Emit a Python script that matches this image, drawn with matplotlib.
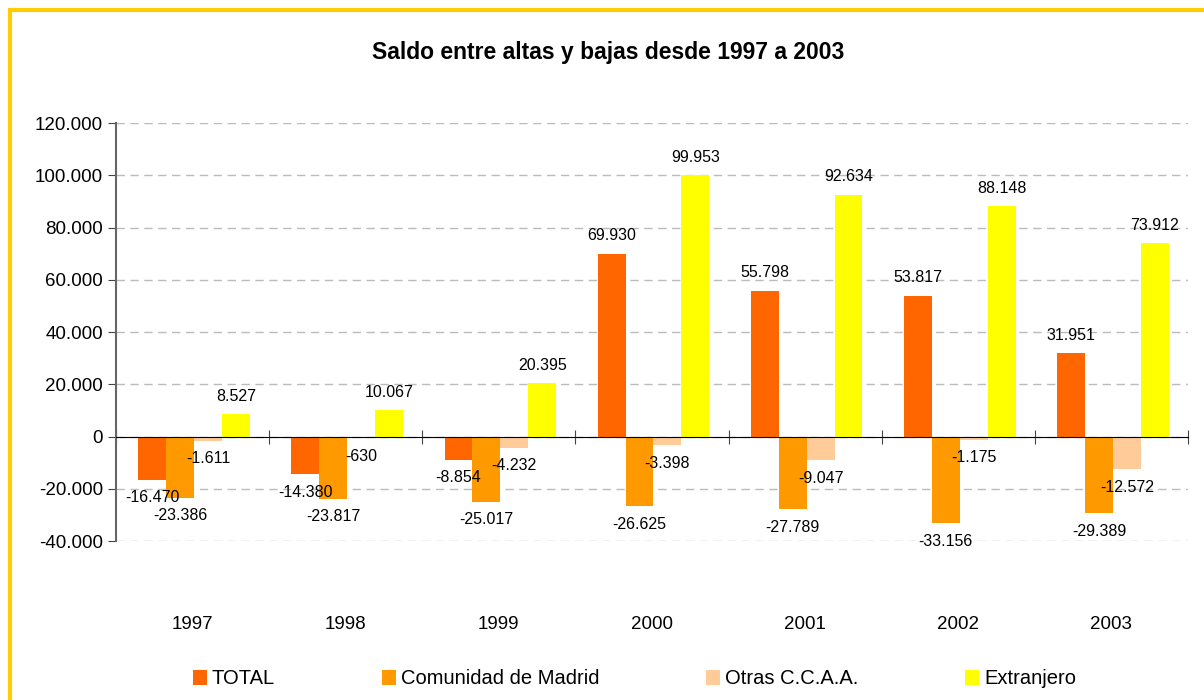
import numpy as np
import matplotlib.pyplot as plt
from matplotlib.ticker import FuncFormatter, MultipleLocator
from matplotlib.patches import Rectangle

plt.rcParams['font.family'] = ['Liberation Sans', 'DejaVu Sans']

years = ['1997', '1998', '1999', '2000', '2001', '2002', '2003']
series_names = ['TOTAL', 'Comunidad de Madrid', 'Otras C.C.A.A.', 'Extranjero']
total = [-16470, -14380, -8854, 69930, 55798, 53817, 31951]
madrid = [-23386, -23817, -25017, -26625, -27789, -33156, -29389]
otras = [-1611, -630, -4232, -3398, -9047, -1175, -12572]
extranjero = [8527, 10067, 20395, 99953, 92634, 88148, 73912]
colours = ['#FF6600', '#FF9900', '#FFCC99', '#FFFF00']


def miles(v, pos=None):
    return f'{int(round(v)):,}'.replace(',', '.')


fig = plt.figure(figsize=(12.04, 7.0), dpi=100)
ax = fig.add_axes([0.0963, 0.2271, 0.8904, 0.5971])

x = np.arange(len(years)) + 0.5
w = 0.182
for k, (vals, name, col) in enumerate(zip([total, madrid, otras, extranjero], series_names, colours)):
    xs = x + (k - 1.5) * w + 0.01
    ax.bar(xs, vals, width=w, color=col, label=name, zorder=3)
    for xi, v in zip(xs, vals):
        off = 13 if v >= 0 else -13
        ax.annotate(miles(v), (xi, v), xytext=(0, off), textcoords='offset points',
                    ha='center', va='center', fontsize=11.5, zorder=5)

ax.set_xlim(0, len(years))
ax.set_ylim(-40000, 120000)
ax.yaxis.set_major_locator(MultipleLocator(20000))
ax.yaxis.set_major_formatter(FuncFormatter(miles))
ax.tick_params(axis='y', labelsize=13.5, length=6, direction='out', color='#444444')
ax.grid(axis='y', color='#BBBBBB', linestyle=(0, (6, 4)), linewidth=1, zorder=0)

ax.spines['top'].set_visible(False)
ax.spines['right'].set_visible(False)
ax.spines['left'].set_color('#666666')
ax.spines['left'].set_linewidth(1.5)
ax.spines['bottom'].set_position(('data', 0))
ax.spines['bottom'].set_color('black')
ax.spines['bottom'].set_zorder(4)
ax.set_xticks(np.arange(len(years) + 1))
ax.set_xticklabels([])
ax.tick_params(axis='x', direction='inout', length=10, color='#444444')

for xi, yr in zip(x, years):
    ax.text(xi, -0.2, yr, transform=ax.get_xaxis_transform(),
            ha='center', va='center', fontsize=13.5)

fig.text(0.505, 0.925, 'Saldo entre altas y bajas desde 1997 a 2003', fontsize=16.5,
         fontweight='bold', ha='center', va='center')

fig.legend(loc='center', bbox_to_anchor=(0.527, 0.03), ncol=4, frameon=False,
           fontsize=14.5, handlelength=0.7, handleheight=0.7, handletextpad=0.25,
           columnspacing=5.3)

# yellow frame round the chart
fig.patches.append(Rectangle((0.008, -0.05), 1.2, 1.036, transform=fig.transFigure,
                             fill=False, edgecolor='#FFCC00', linewidth=3))

fig.savefig('out.png', dpi=100)
